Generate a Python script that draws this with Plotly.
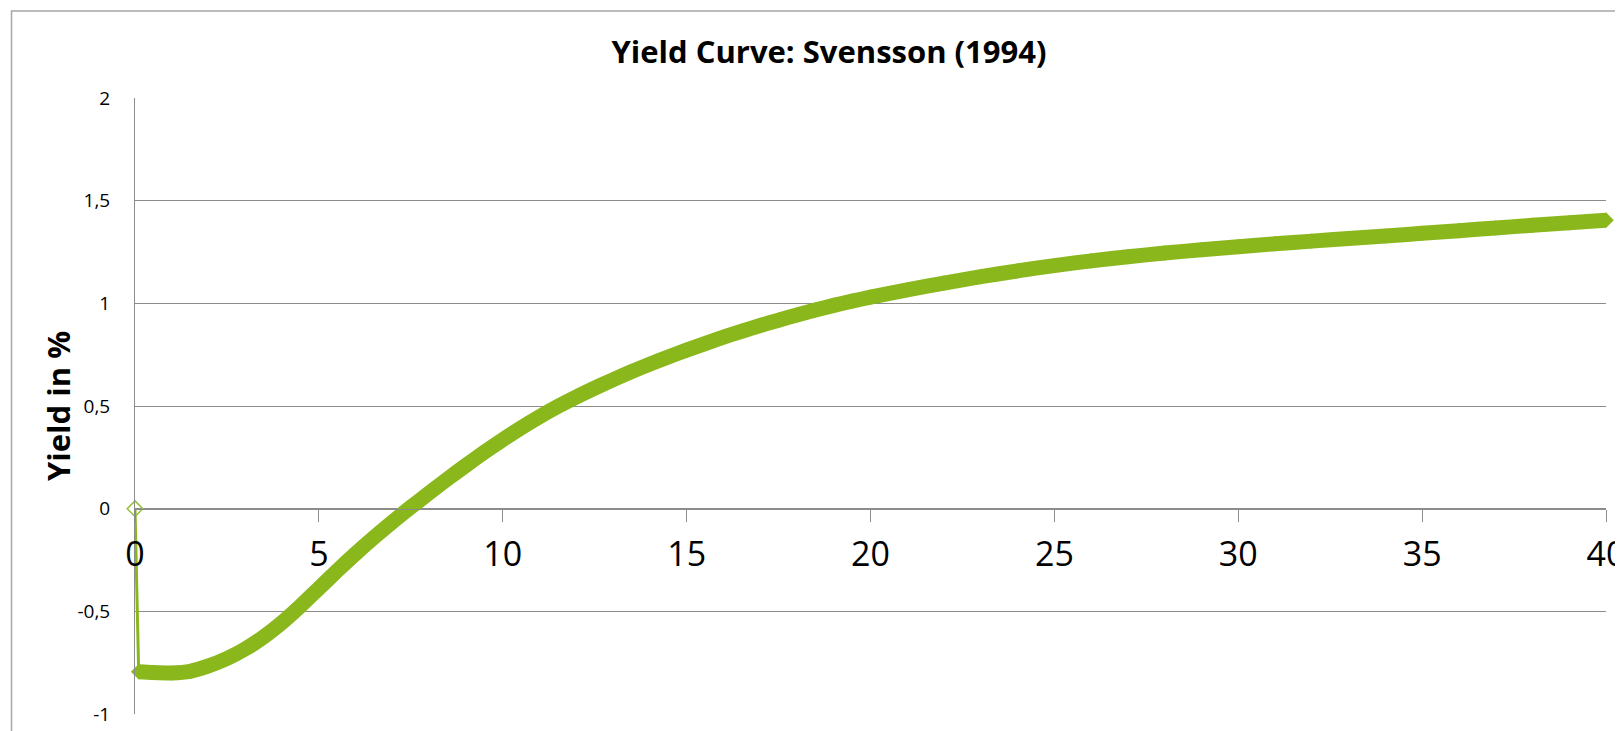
import plotly.graph_objects as go

# ---- data ----
maturities = [0, 0.1, 0.5, 1, 1.5, 2, 2.5, 3, 3.5, 4, 4.5, 5, 5.5, 6, 6.5, 7, 7.5,
              8, 8.5, 9, 9.5, 10, 10.5, 11, 11.5, 12, 12.5, 13, 13.5, 14, 14.5,
              15, 15.5, 16, 16.5, 17, 17.5, 18, 18.5, 19, 19.5, 20, 21, 22, 23,
              24, 25, 26, 27, 28, 29, 30, 31, 32, 33, 34, 35, 36, 37, 38, 39, 40]
yields = [0.0, -0.794, -0.798, -0.800, -0.792, -0.766, -0.730, -0.683, -0.624,
          -0.554, -0.474, -0.388, -0.302, -0.219, -0.140, -0.065, 0.007,
          0.077, 0.145, 0.211, 0.275, 0.336, 0.394, 0.448, 0.498, 0.544, 0.587,
          0.628, 0.667, 0.704, 0.739, 0.772, 0.804, 0.835, 0.864, 0.892, 0.918,
          0.943, 0.967, 0.990, 1.011, 1.030, 1.066, 1.099, 1.130, 1.158, 1.184,
          1.207, 1.227, 1.245, 1.261, 1.276, 1.290, 1.303, 1.316, 1.328, 1.341,
          1.354, 1.367, 1.380, 1.392, 1.405]

x_ticks = [0, 5, 10, 15, 20, 25, 30, 35, 40]
y_ticks = [-1, -0.5, 0, 0.5, 1, 1.5, 2]
y_tick_labels = ["-1", "-0,5", "0", "0,5", "1", "1,5", "2"]

title_text = "Yield Curve: Svensson (1994)"
y_title = "Yield in %"

GREEN = "#8AB81C"
GRID = "#8C8C8C"
FONT = "Open Sans"

OFF = 8                      # page body margin
W, H = 1623 - OFF, 731 - OFF
L, T = 135 - OFF, 98 - OFF
R = W - (1606 - OFF)
B = H - (714 - OFF)
pw, ph = W - L - R, H - T - B

fig = go.Figure()

# thin connector from the first point
fig.add_trace(go.Scatter(
    x=maturities[:2], y=yields[:2], mode="lines",
    line=dict(color=GREEN, width=3), cliponaxis=False, showlegend=False,
))
# main band
fig.add_trace(go.Scatter(
    x=maturities[1:], y=yields[1:], mode="lines+markers",
    line=dict(color=GREEN, width=15, shape="spline", smoothing=0.7),
    marker=dict(symbol="diamond", size=12, color=GREEN),
    cliponaxis=False, showlegend=False,
))
# first (hollow) marker
fig.add_trace(go.Scatter(
    x=maturities[:1], y=yields[:1], mode="markers",
    marker=dict(symbol="diamond-open", size=12, color="#92C23A", line=dict(width=1.5)),
    cliponaxis=False, showlegend=False,
))

fig.update_layout(
    width=W, height=H,
    margin=dict(l=L, r=R, t=T, b=B, autoexpand=False),
    paper_bgcolor="white", plot_bgcolor="white",
    separators=", ",
    font=dict(family=FONT, color="black"),
    title=dict(text="<b>%s</b>" % title_text, xref="container", yref="container",
               x=(829 - OFF) / W, y=1 - (52 - OFF) / H, xanchor="center", yanchor="middle",
               font=dict(family=FONT, size=31, color="black")),
    xaxis=dict(range=[0, 40], tickvals=x_ticks, showgrid=False, zeroline=False,
               showline=True, linecolor=GRID, linewidth=1,
               anchor="free", position=1 / 3,
               ticks="outside", ticklen=12, tickcolor=GRID, tickwidth=1,
               ticklabelstandoff=4, ticklabeloverflow="allow",
               tickfont=dict(family=FONT, size=34, color="black"),
               automargin=False, fixedrange=True),
    yaxis=dict(range=[-1, 2], tickvals=y_ticks, ticktext=y_tick_labels,
               showgrid=True, gridcolor=GRID, gridwidth=1, zeroline=False,
               showline=True, linecolor=GRID, linewidth=1, ticks="",
               ticklabelstandoff=20,
               tickfont=dict(family=FONT, size=19, color="black"),
               automargin=False, fixedrange=True),
    annotations=[dict(text="<b>%s</b>" % y_title, xref="paper", yref="paper",
                      x=(58 - 135) / pw, y=0.5, xanchor="center", yanchor="middle",
                      textangle=-90, showarrow=False,
                      font=dict(family=FONT, size=31, color="black"))],
    shapes=[dict(type="rect", xref="paper", yref="paper",
                 x0=(11.5 - 135) / pw, x1=1.2, y0=-0.2, y1=(714 - 11) / ph,
                 line=dict(color="#A6A6A6", width=1.5), fillcolor="rgba(0,0,0,0)",
                 layer="below")],
)

fig.write_html("out.html")
